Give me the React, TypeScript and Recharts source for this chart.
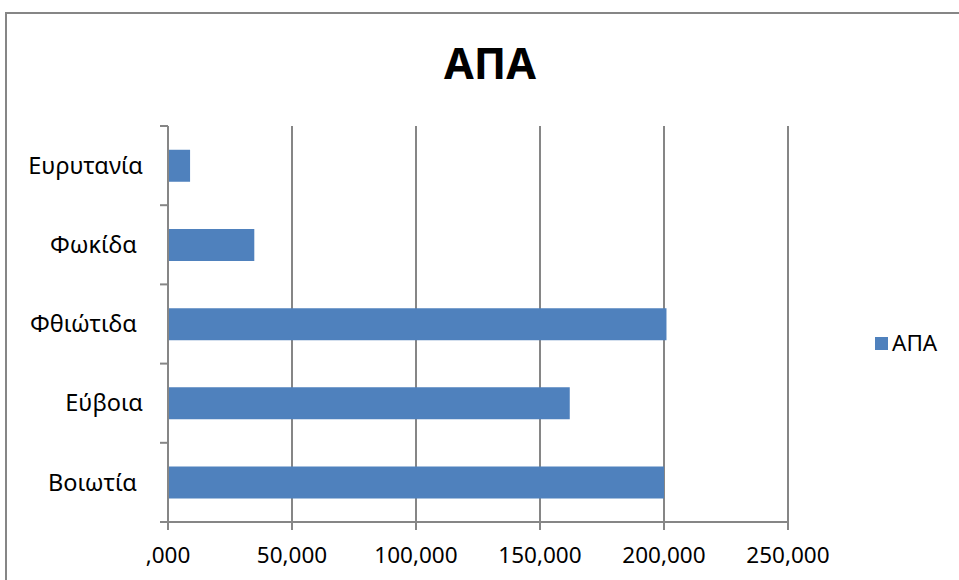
import React from 'react';
import { BarChart, Bar, XAxis, YAxis, CartesianGrid, Legend } from 'recharts';

const categories = ['Ευρυτανία', 'Φωκίδα ', 'Φθιώτιδα ', 'Εύβοια', 'Βοιωτία '];
const apaValues = [8900, 34800, 201000, 162000, 200000];
const xTicks = [0, 50000, 100000, 150000, 200000, 250000];
const seriesName = 'ΑΠΑ';
const titleText = 'ΑΠΑ';

const data = categories.map((c, i) => ({ name: c, apa: apaValues[i] }));

const FONT = '"Noto Sans", "Open Sans", sans-serif';
const GRAY = '#868686';
const BLUE = '#4F81BD';
const CHART_W = 959;
const CHART_H = 580;
const MARGIN = { top: 126, right: 91, bottom: 8, left: 8 };
const X_AXIS_H = 50;
const PLOT_H = CHART_H - MARGIN.top - MARGIN.bottom - X_AXIS_H;

const fmt = (v: number) => {
  if (v === 0) return ',000';
  return v.toLocaleString('en-US');
};

const CategoryTick = (props: any) => {
  const { x, y, payload, index } = props;
  const band = PLOT_H / categories.length;
  const axisX = x + 8 + 17;
  return (
    <g>
      <line x1={axisX - 8} x2={axisX} y1={y - band / 2} y2={y - band / 2} stroke={GRAY} strokeWidth={2} />
      {index === categories.length - 1 && (
        <line x1={axisX - 8} x2={axisX} y1={y + band / 2} y2={y + band / 2} stroke={GRAY} strokeWidth={2} />
      )}
      <text
        x={x}
        y={y}
        dy="0.35em"
        textAnchor="end"
        fill="#000"
        style={{ fontFamily: FONT, fontSize: 23.5, whiteSpace: 'pre' }}
      >
        {payload.value}
      </text>
    </g>
  );
};

const LegendContent = () => (
  <div style={{ display: 'flex', alignItems: 'center', fontFamily: FONT, fontSize: 22.5, color: '#000' }}>
    <span style={{ display: 'inline-block', width: 13, height: 13, background: BLUE, marginRight: 4 }} />
    <span style={{ lineHeight: '26px' }}>{seriesName}</span>
  </div>
);

export default function App() {
  return (
    <div style={{ position: 'absolute', left: 0, top: 0, width: CHART_W, height: CHART_H, overflow: 'hidden', background: '#fff' }}>
      <div
        style={{
          position: 'absolute',
          left: 5,
          top: 12,
          width: 1100,
          height: 1000,
          border: `2px solid ${GRAY}`,
          boxSizing: 'border-box',
        }}
      />
      <div
        style={{
          position: 'absolute',
          left: 290,
          width: 400,
          top: 34,
          textAlign: 'center',
          fontFamily: FONT,
          fontWeight: 700,
          fontSize: 43,
          lineHeight: '58px',
          color: '#000',
        }}
      >
        {titleText}
      </div>
      <div style={{ position: 'absolute', left: 0, top: 0 }}>
        <BarChart
          width={CHART_W}
          height={CHART_H}
          data={data}
          layout="vertical"
          margin={MARGIN}
          barCategoryGap="30%"
        >
          <CartesianGrid horizontal={false} vertical={true} stroke={GRAY} strokeWidth={2} />
          <XAxis
            type="number"
            domain={[0, 250000]}
            ticks={xTicks}
            tickFormatter={fmt}
            height={X_AXIS_H}
            axisLine={{ stroke: GRAY, strokeWidth: 2 }}
            tickLine={{ stroke: GRAY, strokeWidth: 2 }}
            tickSize={8}
            tickMargin={17}
            tick={{ fill: '#000', fontFamily: FONT, fontSize: 22.5 }}
            interval={0}
          />
          <YAxis
            type="category"
            dataKey="name"
            width={160}
            axisLine={{ stroke: GRAY, strokeWidth: 2 }}
            tickLine={false}
            tickSize={8}
            tickMargin={17}
            tick={<CategoryTick />}
            interval={0}
          />
          <Legend
            layout="vertical"
            align="right"
            verticalAlign="middle"
            content={<LegendContent />}
            wrapperStyle={{ left: 875, top: 330, width: 80 }}
          />
          <Bar dataKey="apa" name={seriesName} fill={BLUE} isAnimationActive={false} />
        </BarChart>
      </div>
    </div>
  );
}
